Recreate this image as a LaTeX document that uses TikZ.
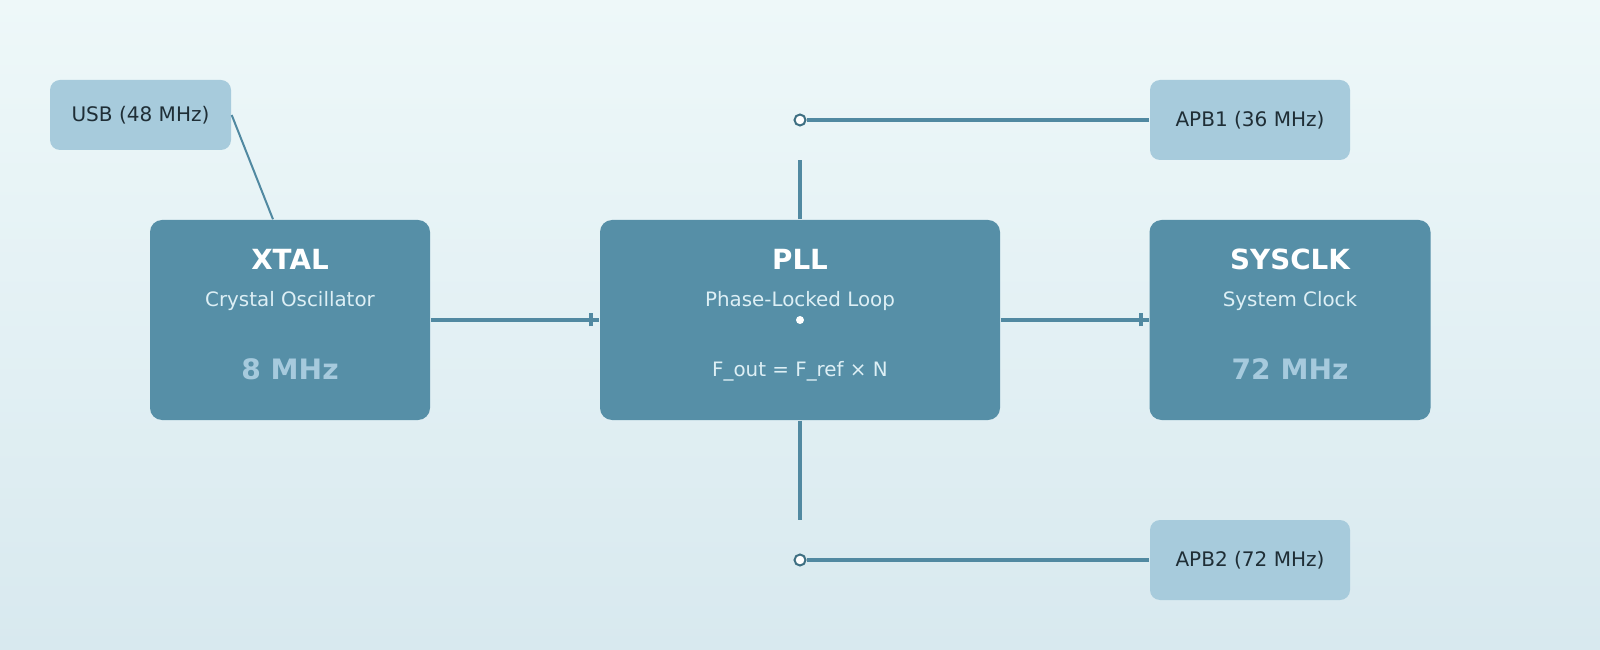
\documentclass[tikz,border=0pt]{standalone}
\usepackage{fontspec}
\setmainfont{DejaVu Sans}
\usetikzlibrary{decorations.markings}

\definecolor{bgtop}{HTML}{EEF8F9}
\definecolor{bgbot}{HTML}{D8E9EF}
\definecolor{blockfill}{HTML}{568FA7}
\definecolor{tagfill}{HTML}{A7CBDC}
\definecolor{wirecol}{HTML}{5189A1}
\definecolor{tapline}{HTML}{3E6F82}
\definecolor{subtext}{HTML}{DDEFF5}
\definecolor{valtext}{HTML}{A6CADD}
\definecolor{tagtext}{HTML}{1F2E36}

\tikzset{
  block/.style={fill=blockfill, rounded corners=0.12cm, minimum height=2cm, inner sep=0},
  tag/.style={fill=tagfill, rounded corners=0.1cm, text=tagtext, font=\fontsize{5.7}{7}\selectfont, inner sep=0},
  title/.style={anchor=base, text=white, font=\fontsize{7.9}{9}\selectfont\bfseries},
  subtitle/.style={anchor=base, text=subtext, font=\fontsize{5.65}{7}\selectfont},
  value/.style={anchor=base, text=valtext, font=\fontsize{8}{9}\selectfont\bfseries},
  wire/.style={draw=wirecol, line width=0.35mm},
  thinwire/.style={draw=wirecol, line width=0.2mm},
  tapmark/.style={postaction={decorate}, decoration={markings, mark=at position -0.08cm with {\draw[wirecol, line width=0.4mm] (0,-0.065) -- (0,0.065);}}},
  tap/.style={circle, draw=tapline, fill=white, line width=0.2mm, minimum size=0.11cm, inner sep=0}
}

\begin{document}
\begin{tikzpicture}

            \shade[top color=bgtop, bottom color=bgbot] (0,0) rectangle (16,-6.5);
            \useasboundingbox (0,0) rectangle (16,-6.5);

            % main blocks
            \node[block, minimum width=2.8cm] (xtal) at (2.9,-3.2) {};
            \node[block, minimum width=4cm] (pll) at (8,-3.2) {};
            \node[block, minimum width=2.81cm] (sysclk) at (12.9,-3.2) {};

            \node[title] (xtaltitle) at ([yshift=-0.5cm]xtal.north) {XTAL};
            \node[subtitle] (xtalsub) at ([yshift=-0.87cm]xtal.north) {Crystal Oscillator};
            \node[value] (xtalval) at ([yshift=-1.6cm]xtal.north) {8 MHz};

            \node[title] (plltitle) at ([yshift=-0.5cm]pll.north) {PLL};
            \node[subtitle] (pllsub) at ([yshift=-0.87cm]pll.north) {Phase-Locked Loop};
            \node[subtitle] (pllformula) at ([yshift=-1.57cm]pll.north) {F\_out = F\_ref × N};
            \node[circle, fill=white, minimum size=0.08cm, inner sep=0] (pllhub) at (pll.center) {};

            \node[title] (systitle) at ([yshift=-0.5cm]sysclk.north) {SYSCLK};
            \node[subtitle] (syssub) at ([yshift=-0.87cm]sysclk.north) {System Clock};
            \node[value] (sysval) at ([yshift=-1.6cm]sysclk.north) {72 MHz};

            % bus outputs
            \node[tag, minimum width=1.81cm, minimum height=0.7cm] (usb) at (1.405,-1.15) {USB (48 MHz)};
            \node[tag, minimum width=2cm, minimum height=0.8cm] (apb1) at (12.5,-1.2) {APB1 (36 MHz)};
            \node[tag, minimum width=2cm, minimum height=0.8cm] (apb2) at (12.5,-5.6) {APB2 (72 MHz)};

            \node[tap] (tap1) at (8,-1.2) {};
            \node[tap] (tap2) at (8,-5.6) {};
            \coordinate (stub1) at (8,-1.6);
            \coordinate (stub2) at (8,-5.2);

            \draw[wire, tapmark] (xtal.east) -- (pll.west);
            \draw[wire, tapmark] (pll.east) -- (sysclk.west);
            \draw[wire] (pll.north) -- (stub1);
            \draw[wire] (pll.south) -- (stub2);
            \draw[wire] (tap1) -- (apb1.west);
            \draw[wire] (tap2) -- (apb2.west);
            \draw[thinwire] (usb.east) -- ([xshift=-0.17cm]xtal.north);

        \end{tikzpicture}
\end{document}
